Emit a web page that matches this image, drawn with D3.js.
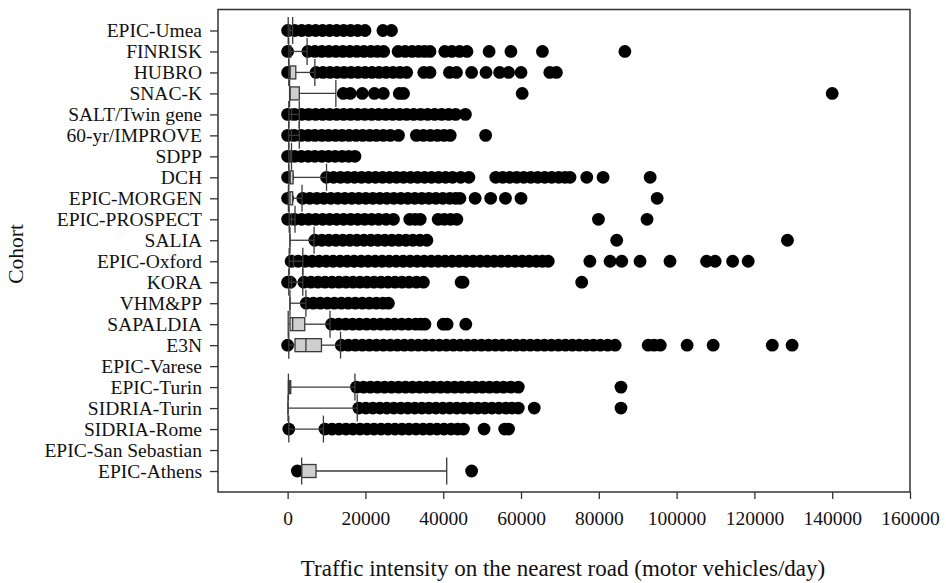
<!DOCTYPE html>
<html>
<head>
<meta charset="utf-8">
<script src="https://cdn.jsdelivr.net/npm/d3@7"></script>
<style>
  html, body { margin: 0; padding: 0; background: #fff; }
  svg { display: block; }
  text { font-family: "Liberation Serif", "Times New Roman", serif; fill: #111; }
</style>
</head>
<body>
<svg id="chart" width="946" height="583"></svg>
<script>
// Cohorts, top to bottom
const cohorts = [
  "EPIC-Umea", "FINRISK", "HUBRO", "SNAC-K", "SALT/Twin gene", "60-yr/IMPROVE",
  "SDPP", "DCH", "EPIC-MORGEN", "EPIC-PROSPECT", "SALIA", "EPIC-Oxford", "KORA",
  "VHM&PP", "SAPALDIA", "E3N", "EPIC-Varese", "EPIC-Turin", "SIDRIA-Turin",
  "SIDRIA-Rome", "EPIC-San Sebastian", "EPIC-Athens"
];

// Box-plot statistics (motor vehicles/day); null = no data for the cohort
const whiskerLow  = [150, 300, 300, 500, 300, 300, 300, 300, 200, 400, 600, 400, 300, 600, 150, 300, null, 200, 100, 300, null, 3600];
const quartile1   = [600, 800, 600, 600, 1000, 1000, 700, 600, 200, 1000, 600, 1500, 1000, 600, 600, 1900, null, 200, 100, 300, null, 3600];
const medianVal   = [600, 800, 600, 600, 1000, 1000, 700, 600, 600, 1000, 600, 1500, 1000, 600, 1300, 4700, null, 500, 100, 300, null, 3600];
const quartile3   = [600, 800, 2100, 3000, 1000, 1000, 700, 1400, 1300, 1000, 600, 1500, 1000, 600, 4400, 8700, null, 800, 100, 300, null, 7300];
const whiskerHigh = [1300, 5000, 7000, 12400, 3000, 3000, 1000, 10000, 3700, 1900, 6800, 3900, 3900, 4700, 10900, 13600, null, 17300, 17900, 9200, null, 40900];

// Outlying observations per cohort (same order as cohorts)
const outliers = [
  [0, 1800, 3600, 5400, 7200, 9000, 10800, 12600, 14400, 16200, 18000, 19900, 24500, 26700],
  [0, 5200, 7000, 8800, 10600, 12400, 14200, 16000, 17800, 19600, 21400, 23100, 24700, 28400, 30200, 32000, 33700, 35200, 36600, 40400, 42200, 44200, 46100, 51800, 57400, 65500, 86700],
  [0, 7300, 9100, 10900, 12700, 14500, 16300, 18100, 19900, 21700, 23500, 25300, 27100, 28900, 30600, 35000, 36600, 41600, 43400, 47300, 51000, 54500, 56800, 60000, 67400, 69100],
  [14300, 16100, 19200, 22300, 24600, 28700, 29800, 60300, 140000],
  [0, 1800, 3600, 5400, 7200, 9000, 10800, 12600, 14400, 16200, 18000, 19800, 21600, 23400, 25200, 27000, 28800, 30600, 32400, 34200, 36000, 37800, 39600, 41400, 43200, 45700],
  [0, 1700, 3500, 5300, 7000, 8800, 10500, 12300, 14000, 15800, 17600, 19300, 21100, 22800, 24600, 26400, 28500, 33100, 34900, 36700, 38500, 40200, 41800, 50900],
  [0, 1800, 3500, 5300, 7000, 8800, 10500, 12200, 14000, 15700, 17300],
  [0, 10000, 11800, 13600, 15400, 17200, 19000, 20800, 22600, 24400, 26200, 28000, 29800, 31600, 33400, 35200, 37000, 38800, 40600, 42400, 44500, 46600, 53500, 55300, 57100, 58900, 60700, 62500, 64300, 66100, 67900, 69700, 71300, 72600, 76900, 81100, 93200],
  [0, 3900, 5700, 7500, 9300, 11100, 12900, 14700, 16500, 18300, 20100, 21900, 23700, 25500, 27300, 29100, 30900, 32700, 34500, 36300, 38100, 39900, 41700, 43200, 44300, 48200, 52200, 56000, 60000, 95000],
  [0, 1800, 3600, 5400, 7200, 9000, 10800, 12600, 14400, 16200, 18000, 19800, 21600, 23400, 25300, 27200, 31400, 32800, 34100, 38700, 40300, 41900, 43500, 79900, 92400],
  [7000, 8800, 10600, 12400, 14200, 16000, 17800, 19600, 21400, 23200, 25000, 26800, 28600, 30400, 32200, 34000, 35800, 84600, 128500],
  [900, 2700, 4500, 6300, 8100, 9900, 11700, 13500, 15300, 17100, 18900, 20700, 22500, 24300, 26100, 27900, 29700, 31500, 33300, 35100, 36900, 38700, 40500, 42300, 44100, 45900, 47700, 49500, 51300, 53100, 54900, 56700, 58500, 60300, 62100, 63900, 65500, 67000, 77700, 82900, 85900, 90600, 98300, 107700, 109900, 114400, 118400],
  [0, 700, 4200, 6000, 7800, 9600, 11400, 13200, 15000, 16800, 18600, 20400, 22200, 24000, 25800, 27600, 29400, 31200, 33100, 34900, 44600, 45100, 75600],
  [4800, 6600, 8400, 10200, 12000, 13800, 15600, 17400, 19200, 21000, 22800, 24500, 25900],
  [11300, 13100, 14900, 16700, 18500, 20300, 22100, 23900, 25700, 27500, 29300, 31100, 32900, 34200, 35300, 40000, 41000, 45800],
  [0, 13800, 15600, 17400, 19200, 21000, 22800, 24600, 26400, 28200, 30000, 31800, 33600, 35400, 37200, 39000, 40800, 42600, 44400, 46200, 48000, 49800, 51600, 53400, 55200, 57000, 58800, 60600, 62400, 64200, 66000, 67800, 69600, 71400, 73200, 75000, 76800, 78600, 80400, 82300, 84200, 92700, 94200, 95800, 102700, 109400, 124600, 129700],
  [],
  [17700, 19500, 21300, 23100, 24900, 26700, 28500, 30300, 32100, 33900, 35700, 37500, 39300, 41100, 42900, 44700, 46500, 48300, 50100, 51900, 53700, 55500, 57400, 59300, 85700],
  [18300, 20100, 21900, 23700, 25500, 27300, 29100, 30900, 32700, 34500, 36300, 38100, 39900, 41700, 43500, 45300, 47100, 48900, 50700, 52500, 54300, 56100, 57700, 59300, 63400, 85700],
  [300, 9600, 11400, 13200, 15000, 16800, 18600, 20400, 22200, 24000, 25800, 27600, 29400, 31200, 33000, 34800, 36600, 38400, 40200, 42000, 43700, 45200, 50500, 55800, 56800],
  [],
  [2500, 47300]
];

const xTicks = [0, 20000, 40000, 60000, 80000, 100000, 120000, 140000, 160000];
const xTitle = "Traffic intensity on the nearest road (motor vehicles/day)";
const yTitle = "Cohort";

// Plot area
const plotLeft = 218, plotRight = 910, plotTop = 9.5, plotBottom = 492;
const svg = d3.select("#chart");

const x = d3.scaleLinear().domain([-17900, 160000]).range([plotLeft, plotRight]);
const y = d3.scalePoint().domain(cohorts).range([plotTop, plotBottom]).padding(1);

const lineColor = "#3a3a3a";
const boxHalf = 6.5, capHalf = 13.5, dotR = 6.4;

// Outlier dots
const dots = [];
cohorts.forEach((c, i) => outliers[i].forEach(v => dots.push({ c, v })));
svg.append("g")
  .selectAll("circle")
  .data(dots)
  .join("circle")
  .attr("cx", d => x(d.v))
  .attr("cy", d => y(d.c))
  .attr("r", dotR)
  .attr("fill", "#000");

// Boxes and whiskers
const stats = cohorts.map((c, i) => ({
  c, lo: whiskerLow[i], q1: quartile1[i], med: medianVal[i], q3: quartile3[i], hi: whiskerHigh[i]
})).filter(d => d.lo !== null);

const g = svg.append("g").attr("stroke", lineColor).attr("stroke-width", 1.3).attr("fill", "none");
g.selectAll("line.wl").data(stats).join("line").attr("class", "wl")
  .attr("x1", d => x(d.lo)).attr("x2", d => x(d.q1))
  .attr("y1", d => y(d.c)).attr("y2", d => y(d.c));
g.selectAll("line.wh").data(stats).join("line").attr("class", "wh")
  .attr("x1", d => x(d.q3)).attr("x2", d => x(d.hi))
  .attr("y1", d => y(d.c)).attr("y2", d => y(d.c));
g.selectAll("line.cl").data(stats).join("line").attr("class", "cl")
  .attr("x1", d => x(d.lo)).attr("x2", d => x(d.lo))
  .attr("y1", d => y(d.c) - capHalf).attr("y2", d => y(d.c) + capHalf);
g.selectAll("line.ch").data(stats).join("line").attr("class", "ch")
  .attr("x1", d => x(d.hi)).attr("x2", d => x(d.hi))
  .attr("y1", d => y(d.c) - capHalf).attr("y2", d => y(d.c) + capHalf);
g.selectAll("rect.box").data(stats).join("rect").attr("class", "box")
  .attr("x", d => x(d.q1)).attr("width", d => x(d.q3) - x(d.q1))
  .attr("y", d => y(d.c) - boxHalf).attr("height", boxHalf * 2)
  .attr("fill", "#cfcfcf");
g.selectAll("line.md").data(stats).join("line").attr("class", "md")
  .attr("x1", d => x(d.med)).attr("x2", d => x(d.med))
  .attr("y1", d => y(d.c) - boxHalf).attr("y2", d => y(d.c) + boxHalf);

// Frame
svg.append("rect")
  .attr("x", plotLeft).attr("y", plotTop)
  .attr("width", plotRight - plotLeft).attr("height", plotBottom - plotTop)
  .attr("fill", "none").attr("stroke", "#333").attr("stroke-width", 1.5);

// Axes
const yAxis = svg.append("g").attr("transform", `translate(${plotLeft},0)`)
  .call(d3.axisLeft(y).tickSize(8).tickPadding(8));
yAxis.select(".domain").remove();
yAxis.selectAll(".tick line").attr("stroke", "#333").attr("stroke-width", 1.3);
yAxis.selectAll(".tick text").attr("font-size", 19.5).attr("font-family", "Liberation Serif").attr("fill", "#111");

const xAxis = svg.append("g").attr("transform", `translate(0,${plotBottom})`)
  .call(d3.axisBottom(x).tickValues(xTicks).tickFormat(d3.format("d")).tickSize(7).tickPadding(12));
xAxis.select(".domain").remove();
xAxis.selectAll(".tick line").attr("stroke", "#333").attr("stroke-width", 1.3);
xAxis.selectAll(".tick text").attr("font-size", 19.5).attr("font-family", "Liberation Serif").attr("fill", "#111");

// Titles
svg.append("text")
  .attr("x", 563).attr("y", 576)
  .attr("text-anchor", "middle").attr("font-size", 23)
  .text(xTitle);
svg.append("text")
  .attr("transform", `translate(23,254) rotate(-90)`)
  .attr("text-anchor", "middle").attr("font-size", 21.5)
  .text(yTitle);
</script>
</body>
</html>
